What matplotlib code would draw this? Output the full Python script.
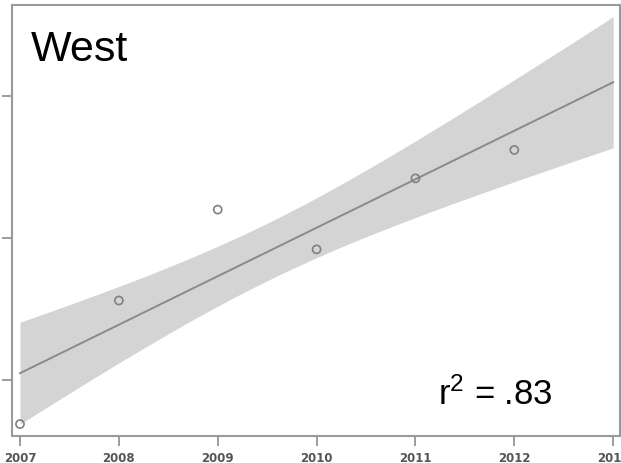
import numpy as np
import matplotlib
matplotlib.use("Agg")
import matplotlib.pyplot as plt

# Yearly observations for the West region
years = [2007, 2008, 2009, 2010, 2011, 2012]
values = [0.69, 1.56, 2.20, 1.92, 2.42, 2.62]
x_ticks = [2007, 2008, 2009, 2010, 2011, 2012, 2013]
y_ticks = [1, 2, 3]
panel_title = "West"

x = np.array(years, dtype=float)
y = np.array(values, dtype=float)

# Ordinary least squares fit with a confidence band around the mean
n = len(x)
xm, ym = x.mean(), y.mean()
sxx = ((x - xm) ** 2).sum()
slope = ((x - xm) * (y - ym)).sum() / sxx
intercept = ym - slope * xm
pred = intercept + slope * x
ss_res = ((y - pred) ** 2).sum()
ss_tot = ((y - ym) ** 2).sum()
r2 = 1 - ss_res / ss_tot
se = np.sqrt(ss_res / (n - 2))
t_crit = 1.533  # t quantile (80%, df=4)

xf = np.linspace(x_ticks[0], x_ticks[-1], 300)
yf = intercept + slope * xf
half = t_crit * se * np.sqrt(1 / n + (xf - xm) ** 2 / sxx)

fig = plt.figure(figsize=(6.21, 4.64), dpi=100)
ax = fig.add_axes([0.0201, 0.0582, 0.978, 0.929])

ax.fill_between(xf, yf - half, yf + half, color="#d4d4d4", linewidth=0, zorder=1)
ax.plot(xf, yf, color="#8a8a8a", linewidth=1.4, zorder=2)
ax.scatter(x, y, s=34, facecolors="none", edgecolors="#808080", linewidths=1.2, zorder=3)

ax.set_xlim(2006.924, 2013.067)
ax.set_ylim(0.606, 3.641)
ax.set_xticks(x_ticks)
ax.set_xticklabels([str(v) for v in x_ticks])
ax.set_yticks(y_ticks)
ax.set_yticklabels([str(v) for v in y_ticks])
ax.tick_params(axis="both", colors="#8c8c8c", length=7, width=1.2,
               labelsize=8.5, labelcolor="#555555")
for lab in ax.get_xticklabels():
    lab.set_fontweight("bold")

for sp in ax.spines.values():
    sp.set_color("#9a9a9a")
    sp.set_linewidth(1.5)

ax.text(0.03, 0.872, panel_title, transform=ax.transAxes, fontsize=31,
        family="Liberation Sans", va="baseline", ha="left", color="black")

plt.rcParams["mathtext.default"] = "regular"
ax.text(0.795, 0.098, "r$^{2}$ = .%02d" % round(r2 * 100), transform=ax.transAxes,
        fontsize=25, family="Liberation Sans", ha="center", va="center", color="black")

fig.savefig("out.png", dpi=100)
